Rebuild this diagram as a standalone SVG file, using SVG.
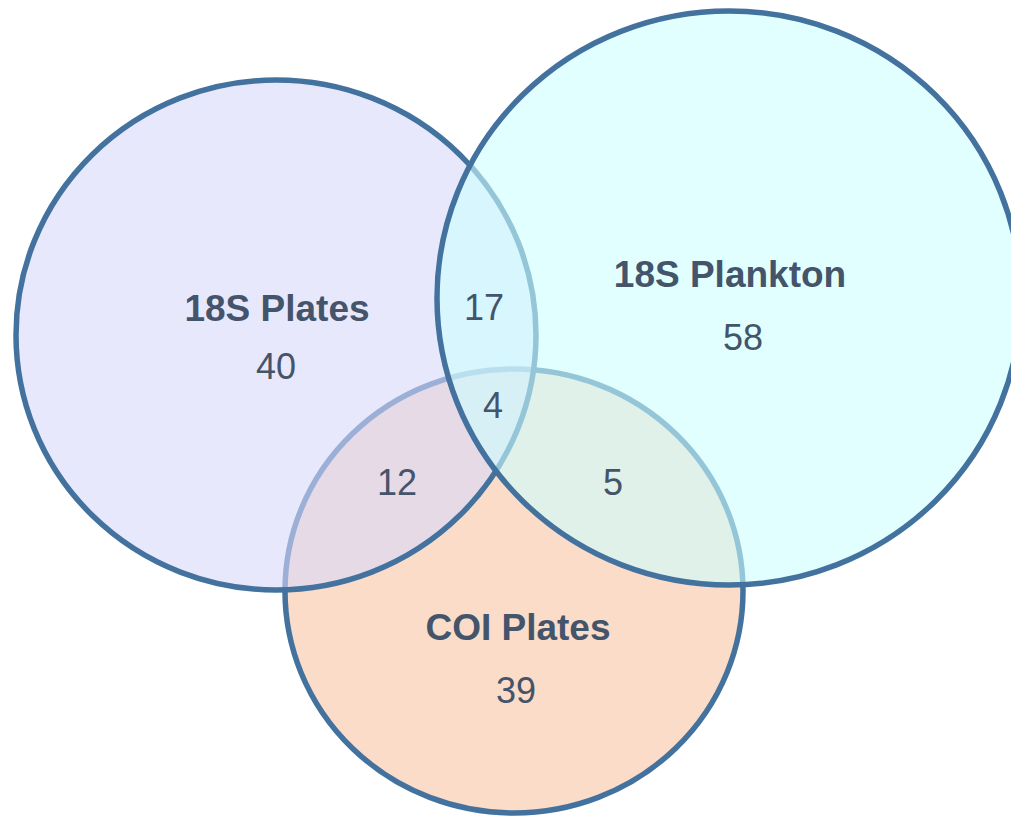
<svg xmlns="http://www.w3.org/2000/svg" width="1011" height="818" viewBox="0 0 1011 818">
  <style>
    .set { stroke: #43729e; stroke-width: 5.5; fill-opacity: 0.6; }
    .label { font-family: "Liberation Sans", Arial, sans-serif; font-weight: bold; font-size: 37px; fill: #44546a; text-anchor: middle; }
    .count { font-family: "Liberation Sans", Arial, sans-serif; font-size: 36px; fill: #44546a; text-anchor: middle; }
  </style>
  <rect width="1011" height="818" fill="#ffffff"/>
  <g id="coi-plates">
    <ellipse class="set" cx="514" cy="591" rx="229" ry="222" fill="rgb(246,197,163)"/>
    <text class="label" x="518" y="640">COI Plates</text>
    <text class="count" x="516" y="703">39</text>
  </g>
  <g id="s18-plates">
    <ellipse class="set" cx="276" cy="335" rx="260" ry="255" fill="rgb(216,216,252)"/>
    <text class="label" x="277" y="321">18S Plates</text>
    <text class="count" x="276" y="379">40</text>
  </g>
  <g id="s18-plankton">
    <ellipse class="set" cx="729" cy="298" rx="292" ry="287" fill="rgb(205,255,255)"/>
    <text class="label" x="730" y="287">18S Plankton</text>
    <text class="count" x="743" y="350">58</text>
  </g>
  <g id="connectors"></g>
  <g id="intersections">
    <text class="count" x="484" y="320">17</text>
    <text class="count" x="493" y="418">4</text>
    <text class="count" x="397" y="495">12</text>
    <text class="count" x="613" y="495">5</text>
  </g>
</svg>
